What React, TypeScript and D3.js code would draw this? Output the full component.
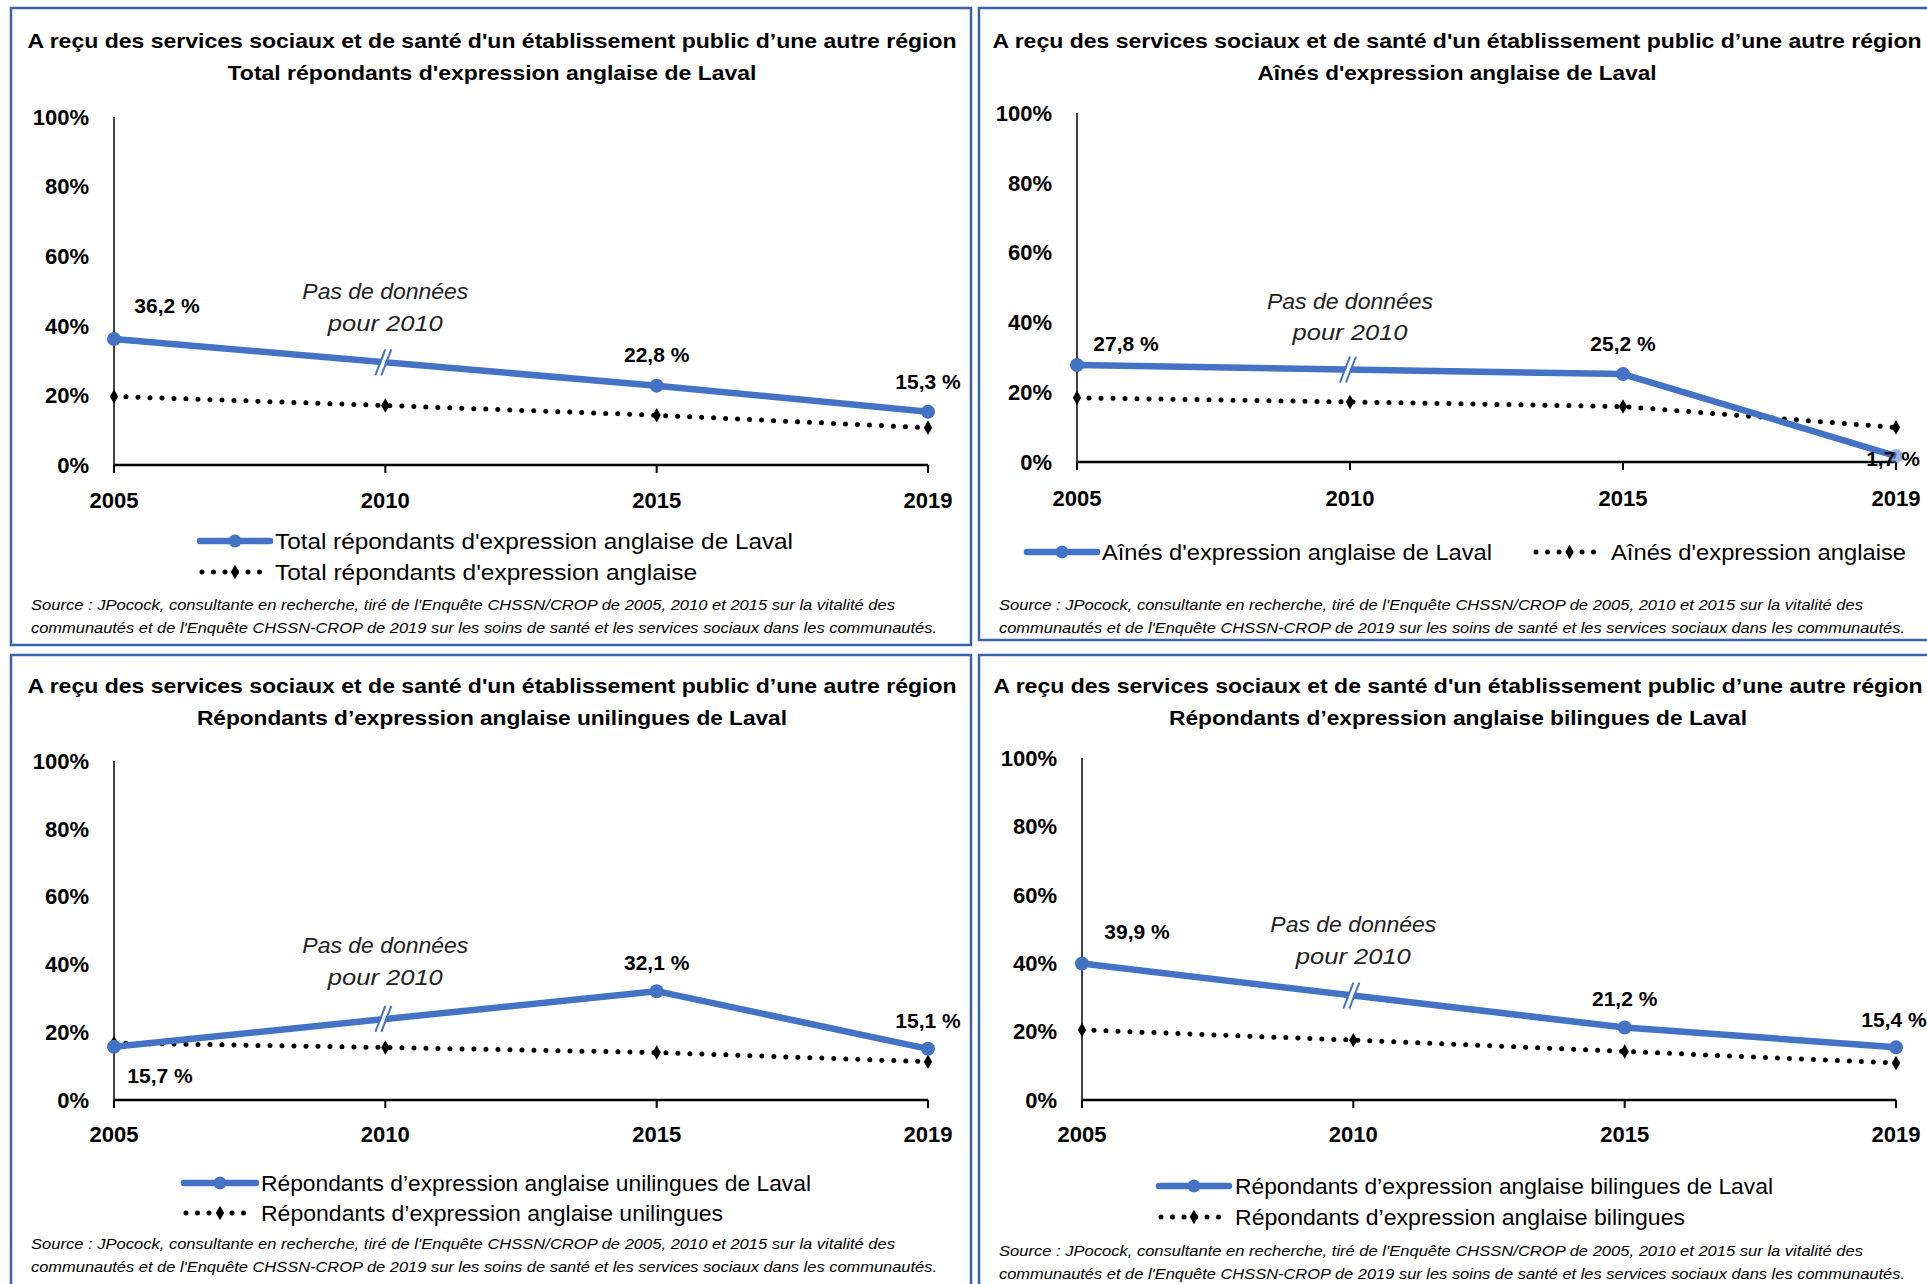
import React from "react";
import * as d3 from "d3";

// ---------- DATA ----------
const years = ["2005", "2010", "2015", "2019"];
const yTicks = [0, 20, 40, 60, 80, 100];

const lavalTotal = [36.2, null, 22.8, 15.3];
const quebecTotal = [19.7, 17.1, 14.3, 10.7];
const lavalAines = [27.8, null, 25.2, 1.7];
const quebecAines = [18.4, 17.2, 15.9, 9.9];
const lavalUni = [15.7, null, 32.1, 15.1];
const quebecUni = [16.8, 15.5, 14.0, 11.3];
const lavalBi = [39.9, null, 21.2, 15.4];
const quebecBi = [20.5, 17.5, 14.2, 10.8];

const titleLine1 =
  "A reçu des services sociaux et de santé d'un établissement public d’une autre région";
const subtitles = [
  "Total répondants d'expression anglaise de Laval",
  "Aînés d'expression anglaise de Laval",
  "Répondants d’expression anglaise unilingues de Laval",
  "Répondants d’expression anglaise bilingues de Laval",
];
const legendLaval = [
  "Total répondants d'expression anglaise de Laval",
  "Aînés d'expression anglaise de Laval",
  "Répondants d’expression anglaise unilingues de Laval",
  "Répondants d’expression anglaise bilingues de Laval",
];
const legendQuebec = [
  "Total répondants d'expression anglaise",
  "Aînés d'expression anglaise",
  "Répondants d’expression anglaise unilingues",
  "Répondants d’expression anglaise bilingues",
];
const noDataLines = ["Pas de données", "pour 2010"];
const sourceLines = [
  "Source : JPocock, consultante en recherche, tiré de l'Enquête CHSSN/CROP de 2005, 2010 et 2015 sur la vitalité des",
  "communautés et de l'Enquête CHSSN-CROP de 2019 sur les soins de santé et les services sociaux dans les communautés.",
];

const panelData = [
  { laval: lavalTotal, quebec: quebecTotal },
  { laval: lavalAines, quebec: quebecAines },
  { laval: lavalUni, quebec: quebecUni },
  { laval: lavalBi, quebec: quebecBi },
];

// ---------- LAYOUT ----------
const BLUE = "#4472C4";
const BORDER = "#3B62AA";
const FONT = "'Liberation Sans', Arial, sans-serif";

const layouts = [
  {
    box: [11, 8, 960, 637],
    x0: 114, x1: 928, yBase: 465, yTop: 117,
    titleCx: 492, titleY: [41, 73], subW: 529,
    noDataY: [291, 323], xLabelY: 500, tickRight: 89,
    labelOff: [[53, -33], null, [0, -31], [0, -30]],
    legend: { type: "stack", lx0: 200, lx1: 270, tx: 275, y: [541, 572], w: [518, 422] },
    source: { x: 31, y: [605, 628] },
  },
  {
    box: [979, 8, 980, 632],
    x0: 1077, x1: 1896, yBase: 462, yTop: 113,
    titleCx: 1457, titleY: [41, 73], subW: 399,
    noDataY: [301, 332], xLabelY: 498, tickRight: 1052,
    labelOff: [[49, -21], null, [0, -30], [-3, 3]],
    legend: { type: "row", items: [[1027, 1097, 1102, 390], [1534, 1605, 1611, 295]], y: 552 },
    source: { x: 999, y: [605, 628] },
  },
  {
    box: [11, 655, 960, 660],
    x0: 114, x1: 928, yBase: 1100, yTop: 761,
    titleCx: 492, titleY: [686, 718], subW: 590,
    noDataY: [945, 977], xLabelY: 1134, tickRight: 89,
    labelOff: [[46, 29], null, [0, -29], [0, -28]],
    legend: { type: "stack", lx0: 184, lx1: 256, tx: 261, y: [1183, 1213], w: [550, 462] },
    source: { x: 31, y: [1244, 1267] },
  },
  {
    box: [979, 655, 980, 660],
    x0: 1082, x1: 1896, yBase: 1100, yTop: 758,
    titleCx: 1458, titleY: [686, 718], subW: 578,
    noDataY: [924, 956], xLabelY: 1134, tickRight: 1057,
    labelOff: [[55, -32], null, [0, -29], [-2, -28]],
    legend: { type: "stack", lx0: 1159, lx1: 1229, tx: 1235, y: [1186, 1217], w: [538, 450] },
    source: { x: 999, y: [1251, 1274] },
  },
];

const fmt = (v: number) => `${v.toFixed(1).replace(".", ",")} %`;

const diamond = d3.symbol().type(d3.symbolDiamond).size(60)();

function LegendSwatch({ x0, x1, y, kind }: { x0: number; x1: number; y: number; kind: string }) {
  const cx = (x0 + x1) / 2;
  if (kind === "laval") {
    return (
      <g>
        <line x1={x0} x2={x1} y1={y} y2={y} stroke={BLUE} strokeWidth={6.5} strokeLinecap="round" />
        <circle cx={cx} cy={y} r={6.5} fill={BLUE} />
      </g>
    );
  }
  return (
    <g>
      <line x1={x0 + 2} x2={x1 - 2} y1={y} y2={y} stroke="#000" strokeWidth={5}
        strokeLinecap="round" strokeDasharray="0 11.5" />
      <path d={diamond} transform={`translate(${cx},${y})`} fill="#000" />
    </g>
  );
}

function Panel({ idx }: { idx: number }) {
  const L = layouts[idx];
  const { laval, quebec } = panelData[idx];
  const x = d3.scalePoint<string>().domain(years).range([L.x0, L.x1]);
  const y = d3.scaleLinear().domain([0, 100]).range([L.yBase, L.yTop]);

  const lavalPts = years
    .map((yr, i) => ({ yr, v: laval[i] }))
    .filter((d) => d.v !== null) as { yr: string; v: number }[];
  const quebecPts = years.map((yr, i) => ({ yr, v: quebec[i] }));

  const line = d3
    .line<{ yr: string; v: number }>()
    .x((d) => x(d.yr) as number)
    .y((d) => y(d.v));

  const bx = x("2010") as number;
  const by = (y(laval[0] as number) + y(laval[2] as number)) / 2;

  const [bxx, byy, bw, bh] = L.box;

  const legendEls: any[] = [];
  const lg: any = L.legend;
  ["laval", "quebec"].forEach((k, i) => {
    let a, b, tx, w, ly;
    if (lg.type === "stack") {
      a = lg.lx0; b = lg.lx1; tx = lg.tx; w = lg.w[i]; ly = lg.y[i];
    } else {
      [a, b, tx, w] = lg.items[i]; ly = lg.y;
    }
    legendEls.push(
      <g key={k}>
        <LegendSwatch x0={a} x1={b} y={ly} kind={k} />
        <text x={tx} y={ly} dy="0.35em" fontSize={22} fontFamily={FONT}
          textLength={w} lengthAdjust="spacingAndGlyphs" fill="#000">
          {k === "laval" ? legendLaval[idx] : legendQuebec[idx]}
        </text>
      </g>
    );
  });

  return (
    <g>
      <rect x={bxx} y={byy} width={bw} height={bh} fill="#fff" stroke={BORDER} strokeWidth={2.5} />
      <text x={L.titleCx} y={L.titleY[0]} dy="0.35em" textAnchor="middle" fontWeight="bold"
        fontSize={21} fontFamily={FONT} textLength={929} lengthAdjust="spacingAndGlyphs">
        {titleLine1}
      </text>
      <text x={L.titleCx} y={L.titleY[1]} dy="0.35em" textAnchor="middle" fontWeight="bold"
        fontSize={21} fontFamily={FONT} textLength={L.subW} lengthAdjust="spacingAndGlyphs">
        {subtitles[idx]}
      </text>

      <line x1={L.x0} x2={L.x0} y1={y(0)} y2={y(100)} stroke="#000" strokeWidth={1.5} />
      {yTicks.map((t) => (
        <text key={t} x={L.tickRight} y={y(t)} dy="0.35em" textAnchor="end" fontWeight="bold"
          fontSize={22} fontFamily={FONT}>
          {`${t}%`}
        </text>
      ))}
      <line x1={L.x0} x2={L.x1} y1={y(0)} y2={y(0)} stroke="#000" strokeWidth={2.5} />
      {years.map((yr) => (
        <g key={yr}>
          <line x1={x(yr)} x2={x(yr)} y1={y(0)} y2={y(0) + 8} stroke="#000" strokeWidth={2} />
          <text x={x(yr)} y={L.xLabelY} dy="0.35em" textAnchor="middle" fontWeight="bold"
            fontSize={22} fontFamily={FONT}>
            {yr}
          </text>
        </g>
      ))}

      {noDataLines.map((s, i) => (
        <text key={i} x={bx} y={L.noDataY[i]} dy="0.35em" textAnchor="middle" fontStyle="italic"
          fontSize={22} fontFamily={FONT} fill="#222" textLength={i === 0 ? 166 : 115}
          lengthAdjust="spacingAndGlyphs">
          {s}
        </text>
      ))}

      <path d={line(quebecPts as any) || ""} fill="none" stroke="#000" strokeWidth={5}
        strokeLinecap="round" strokeDasharray="0 12" />
      {quebecPts.map((d) => (
        <path key={d.yr} d={diamond} transform={`translate(${x(d.yr)},${y(d.v)})`} fill="#000" />
      ))}

      <path d={line(lavalPts) || ""} fill="none" stroke={BLUE} strokeWidth={6.5}
        strokeLinejoin="round" />
      {lavalPts.map((d) => (
        <circle key={d.yr} cx={x(d.yr)} cy={y(d.v)} r={7} fill={BLUE}
          opacity={idx === 1 && d.yr === "2019" ? 0.55 : 1} />
      ))}
      <g transform={`translate(${bx},${by})`}>
        <line x1={-7} y1={13} x2={3} y2={-13} stroke="#fff" strokeWidth={4} />
        <line x1={-10} y1={13} x2={0} y2={-13} stroke={BLUE} strokeWidth={2} />
        <line x1={-4} y1={13} x2={6} y2={-13} stroke={BLUE} strokeWidth={2} />
      </g>

      {laval.map((v, i) => {
        const off = L.labelOff[i];
        if (v === null || !off) return null;
        return (
          <text key={i} x={(x(years[i]) as number) + off[0]} y={y(v) + off[1]} dy="0.35em"
            textAnchor="middle" fontWeight="bold" fontSize={21} fontFamily={FONT} fill="#000">
            {fmt(v)}
          </text>
        );
      })}

      {legendEls}

      {sourceLines.map((s, i) => (
        <text key={i} x={L.source.x} y={L.source.y[i]} dy="0.35em" fontStyle="italic" fontSize={15}
          fontFamily={FONT} textLength={i === 0 ? 864 : 906} lengthAdjust="spacingAndGlyphs" fill="#000">
          {s}
        </text>
      ))}
    </g>
  );
}

export default function App() {
  return (
    <svg width={1927} height={1284} viewBox="0 0 1927 1284"
      style={{ position: "absolute", left: 0, top: 0, display: "block", background: "#fff" }}>
      <rect x={0} y={0} width={1927} height={1284} fill="#fff" />
      {[0, 1, 2, 3].map((i) => (
        <Panel key={i} idx={i} />
      ))}
    </svg>
  );
}
